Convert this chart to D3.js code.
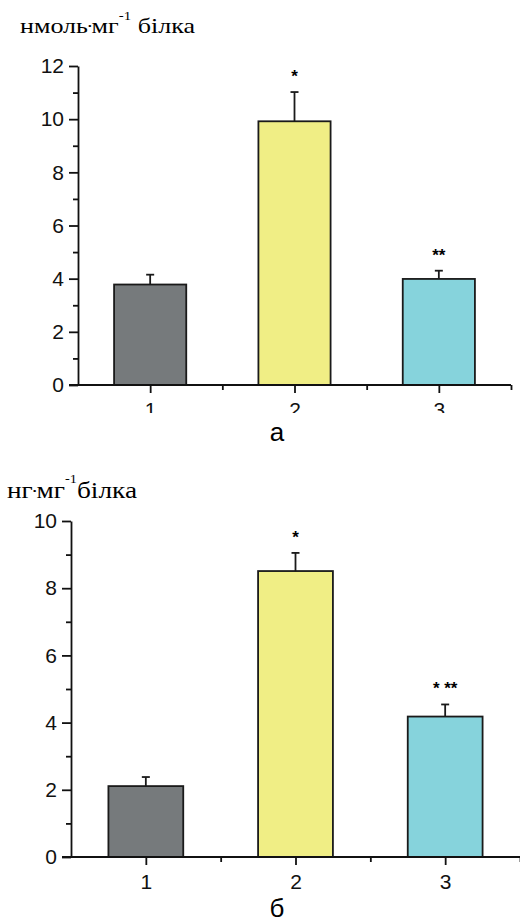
<!DOCTYPE html>
<html>
<head>
<meta charset="utf-8">
<script src="https://cdn.jsdelivr.net/npm/d3@7"></script>
<style>
  body { margin: 0; background: #fff; }
  svg { display: block; }
</style>
</head>
<body>
<svg width="520" height="922"></svg>
<script>
// groups 1..3
const groups = [1, 2, 3]
const colors = ['#767a7c', '#f0ee85', '#86d3dc']

// panel а: нмоль·мг-1 білка
const valuesA = [3.78, 9.92, 3.99]
const errorsA = [0.37, 1.1, 0.31]
const starsA = ['', '*', '**']
const ticksA = [0, 2, 4, 6, 8, 10, 12]

// panel б: нг·мг-1 білка
const valuesB = [2.11, 8.51, 4.18]
const errorsB = [0.27, 0.54, 0.36]
const starsB = ['', '*', '* **']
const ticksB = [0, 2, 4, 6, 8, 10]

const SANS = 'Liberation Sans'
const SERIF = 'Liberation Serif'
const svg = d3.select('svg')

function panel(opt) {
    let x = d3.scaleLinear().domain([0.5, 3.5]).range([opt.left, opt.right])
    let y = d3.scaleLinear().domain([0, opt.max]).range([opt.bottom, opt.top])
    let g = svg.append('g')

    // title (serif, with superscript -1)
    let t = g.append('text')
        .attr('x', opt.titleX).attr('y', opt.titleY)
        .attr('font-family', SERIF)
        .attr('font-size', opt.titleSize)
        .attr('textLength', opt.titleLen)
        .attr('lengthAdjust', 'spacingAndGlyphs')
    t.append('tspan').text(opt.unit)
    t.append('tspan').text('•').attr('font-size', opt.titleSize * 0.4).attr('dy', -4)
    t.append('tspan').text('мг').attr('dy', 4)
    t.append('tspan').text('-1').attr('font-size', 12).attr('dy', -opt.supUp)
    t.append('tspan').text(opt.gap + 'білка').attr('dy', opt.supUp)

    // bars
    g.selectAll('rect.bar').data(opt.values).enter().append('rect')
        .attr('class', 'bar')
        .attr('x', (d, i) => x(groups[i] - 0.25))
        .attr('width', x(1.25) - x(0.75))
        .attr('y', d => y(d))
        .attr('height', d => y(0) - y(d))
        .attr('fill', (d, i) => colors[i])
        .attr('stroke', '#1a1a1a')
        .attr('stroke-width', 1.8)

    // error bars
    let eb = g.selectAll('g.err').data(opt.values).enter().append('g')
        .attr('stroke', '#1a1a1a').attr('stroke-width', 1.8)
    eb.append('line')
        .attr('x1', (d, i) => x(groups[i])).attr('x2', (d, i) => x(groups[i]))
        .attr('y1', d => y(d)).attr('y2', (d, i) => y(d + opt.errors[i]))
    eb.append('line')
        .attr('x1', (d, i) => x(groups[i]) - 4).attr('x2', (d, i) => x(groups[i]) + 4)
        .attr('y1', (d, i) => y(d + opt.errors[i])).attr('y2', (d, i) => y(d + opt.errors[i]))

    // stars
    g.selectAll('text.star').data(opt.stars).enter().append('text')
        .attr('x', (d, i) => x(groups[i]))
        .attr('y', (d, i) => y(opt.values[i] + opt.errors[i]) - 10)
        .attr('text-anchor', 'middle')
        .attr('font-family', SANS)
        .attr('font-weight', 'bold')
        .attr('font-size', 17)
        .text(d => d)

    // y axis
    let minorY = d3.range(1, opt.max, 2)
    g.append('g').attr('transform', `translate(${opt.left},0)`)
        .call(d3.axisLeft(y).tickValues(minorY).tickSize(5).tickFormat(''))
        .call(a => a.select('.domain').remove())
    let ya = g.append('g').attr('transform', `translate(${opt.left},0)`)
        .call(d3.axisLeft(y).tickValues(opt.ticks).tickSize(9).tickSizeOuter(0).tickPadding(5))
    ya.selectAll('text')
        .attr('font-family', SANS)
        .attr('font-size', 21).attr('fill', '#111')

    // x axis
    g.append('g').attr('transform', `translate(0,${opt.bottom})`)
        .call(d3.axisBottom(x).tickValues([1.5, 2.5, 3.5]).tickSize(5).tickFormat(''))
        .call(a => a.select('.domain').remove())
    let xa = g.append('g').attr('transform', `translate(0,${opt.bottom})`)
        .call(d3.axisBottom(x).tickValues(groups).tickSize(8).tickSizeOuter(0).tickPadding(9).tickFormat(d3.format('d')))
    xa.select('.domain').attr('d', `M${opt.left - 9},0H${opt.right}`)
    xa.selectAll('text')
        .attr('font-family', SANS)
        .attr('font-size', 21).attr('fill', '#111')
    if (opt.clipX) {
        // the labels of panel а are cut short by the letter below in the original
        svg.append('clipPath').attr('id', opt.clipX.id)
            .append('rect').attr('x', -20).attr('y', -20).attr('width', 40).attr('height', opt.clipX.h)
        xa.selectAll('text').attr('clip-path', `url(#${opt.clipX.id})`)
    }
    g.selectAll('.tick line').attr('stroke', '#111').attr('stroke-width', 1.8)
    g.selectAll('.domain').attr('stroke', '#111').attr('stroke-width', 1.8)

    // panel letter
    g.append('text')
        .attr('x', opt.letterX).attr('y', opt.letterY)
        .attr('text-anchor', 'middle')
        .attr('font-family', SANS)
        .attr('font-size', 26)
        .text(opt.letter)
}

panel({
    values: valuesA, errors: errorsA, stars: starsA, ticks: ticksA, max: 12,
    left: 78, right: 511, top: 66, bottom: 385,
    unit: 'нмоль', gap: ' ', titleX: 20, titleY: 33, titleSize: 21, titleLen: 175, supUp: 13,
    letter: 'а', letterX: 277, letterY: 441, clipX: {id: 'clipA', h: 48}
})

panel({
    values: valuesB, errors: errorsB, stars: starsB, ticks: ticksB, max: 10,
    left: 71, right: 520, top: 521, bottom: 857,
    unit: 'нг', gap: '', titleX: 7, titleY: 498, titleSize: 23, titleLen: 130, supUp: 15,
    letter: 'б', letterX: 277, letterY: 917
})
</script>
</body>
</html>
